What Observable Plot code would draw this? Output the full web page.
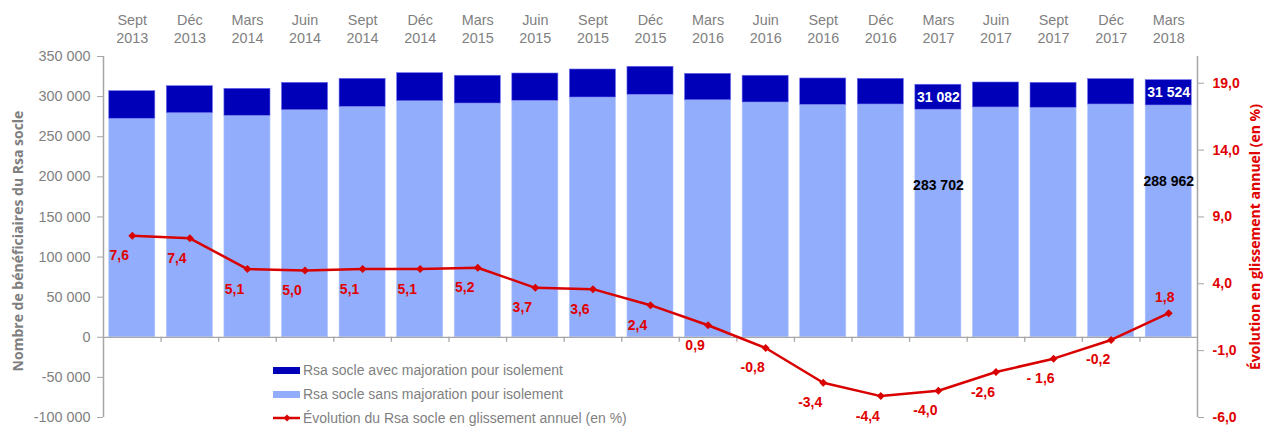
<!DOCTYPE html>
<html>
<head>
<meta charset="utf-8">
<script src="https://cdn.jsdelivr.net/npm/d3@7"></script>
<script src="https://cdn.jsdelivr.net/npm/@observablehq/plot@0.6"></script>
<style>
  body { margin: 0; background: #fff; }
  #wrap { position: relative; width: 1266px; height: 428px; font-family: "Liberation Sans", Arial, sans-serif; }
  #legend { position: absolute; left: 273px; top: 358px; font-size: 14px; color: #7f7f7f; }
  #legend .row { height: 24px; display: flex; align-items: center; }
  #legend .sw { width: 27px; height: 7px; margin-right: 3px; }
</style>
</head>
<body>
<div id="wrap">
  <div id="chart"></div>
  <div id="legend">
    <div class="row"><span class="sw" style="background:#0000b8"></span>Rsa socle avec majoration pour isolement</div>
    <div class="row"><span class="sw" style="background:#92adfc"></span>Rsa socle sans majoration pour isolement</div>
    <div class="row"><svg width="27" height="10" style="margin-right:3px"><line x1="0" y1="5" x2="27" y2="5" stroke="#d90000" stroke-width="2.5"/><path d="M14,1.5 L17.5,5 L14,8.5 L10.5,5 Z" fill="#d90000"/></svg>Évolution du Rsa socle en glissement annuel (en %)</div>
  </div>
</div>
<script>
const categories = ["Sept 2013","Déc 2013","Mars 2014","Juin 2014","Sept 2014","Déc 2014","Mars 2015","Juin 2015","Sept 2015","Déc 2015","Mars 2016","Juin 2016","Sept 2016","Déc 2016","Mars 2017","Juin 2017","Sept 2017","Déc 2017","Mars 2018"];
const sansMajoration = [272400,279400,276100,283100,287300,294300,291400,294800,298900,302300,295500,292700,289800,290200,283702,286500,286100,290200,288962];
const avecMajoration = [34400,33600,33600,34100,34900,34900,34600,34000,34900,34900,32900,33300,32800,32000,31082,31100,31100,31600,31524];
const evolution = [7.6,7.4,5.1,5.0,5.1,5.1,5.2,3.7,3.6,2.4,0.9,-0.8,-3.4,-4.4,-4.0,-2.6,-1.6,-0.2,1.8];
const evolutionLabels = ["7,6","7,4","5,1","5,0","5,1","5,1","5,2","3,7","3,6","2,4","0,9","-0,8","-3,4","-4,4","-4,0","-2,6","- 1,6","-0,2","1,8"];
const labelledBars = ["Mars 2017","Mars 2018"];
const leftTicks = [-100000,-50000,0,50000,100000,150000,200000,250000,300000,350000];
const rightTicks = [-6,-1,4,9,14,19];

const W = 1266, H = 428, mL = 103, mR = 69, mT = 56, mB = 11;
const step = (W - mL - mR) / (categories.length - 0.2 + 0.2);
const yDomain = [-100000, 350000];
const pxToVal = (yDomain[1] - yDomain[0]) / (H - mT - mB);
const pct = d3.scaleLinear([-6, 21], yDomain);

const gray = "#7f7f7f", axisGray = "#a6a6a6", red = "#e00000", lineRed = "#d90000";
const titleFont = "'Open Sans', 'Liberation Sans', sans-serif";
const fmtNum = v => (v < 0 ? "-" : "") + d3.format(",")(Math.abs(Math.round(v))).replace(/,/g, " ");
const fmtPct = v => { const r = Math.round(v * 10) / 10; return r.toFixed(1).replace(".", ","); };

const rows = categories.map((c, i) => ({cat: c, sans: sansMajoration[i], avec: avecMajoration[i], evo: evolution[i], evoLabel: evolutionLabels[i]}));
const last = rows[rows.length - 1];

const chart = Plot.plot({
  width: W, height: H,
  marginLeft: mL, marginRight: mR, marginTop: mT, marginBottom: mB,
  style: {fontFamily: "'Liberation Sans', Arial, sans-serif", fontSize: "14px", background: "#fff"},
  x: {domain: categories, paddingInner: 0.2, paddingOuter: 0.1, round: false, axis: null},
  y: {domain: yDomain, axis: null},
  marks: [
    Plot.barY(rows, {x: "cat", y1: 0, y2: "sans", fill: "#92adfc", stroke: "#b4c6fd", strokeWidth: 0.6}),
    Plot.barY(rows, {x: "cat", y1: "sans", y2: d => d.sans + d.avec, fill: "#0000b8", stroke: "#6d6df0", strokeWidth: 0.6}),
    Plot.ruleY([0], {stroke: axisGray, strokeWidth: 1.3}),
    Plot.ruleX(categories.slice(1), {x: d => d, dx: -step / 2, y1: 0, y2: -5 * pxToVal, stroke: axisGray, strokeWidth: 1.3}),
    Plot.ruleX([categories[0]], {x: d => d, dx: -step / 2, stroke: axisGray, strokeWidth: 1.5}),
    Plot.ruleX([categories[categories.length - 1]], {x: d => d, dx: step / 2, stroke: axisGray, strokeWidth: 1.5}),
    Plot.axisY({anchor: "left", ticks: leftTicks, tickFormat: fmtNum, tickSize: 6, tickPadding: 7, color: gray, stroke: axisGray, fontSize: 14.4, label: null}),
    Plot.axisY({anchor: "right", ticks: rightTicks.map(pct), tickFormat: () => "", tickSize: 6, stroke: axisGray, label: null}),
    Plot.axisY({anchor: "right", ticks: rightTicks.map(pct), tickFormat: v => fmtPct(pct.invert(v)), tickSize: 0, tickPadding: 15, color: red, fontWeight: "bold", fontSize: 14, label: null}),
    Plot.text(categories, {x: d => d, text: d => d.replace(" ", "\n"), frameAnchor: "top", lineAnchor: "bottom", dy: -14, lineHeight: 1.2, fill: gray, fontSize: 14.4}),
    Plot.text(["Nombre de bénéficiaires du Rsa socle"], {frameAnchor: "left", textAnchor: "middle", rotate: -90, dx: -85, dy: 4, fill: gray, fontWeight: "bold", fontSize: 14, fontFamily: titleFont}),
    Plot.text(["Évolution en glissement annuel (en %)"], {frameAnchor: "right", textAnchor: "middle", rotate: -90, dx: 58, dy: 0, fill: red, fontWeight: "bold", fontSize: 14, fontFamily: titleFont}),
    Plot.line(rows, {x: "cat", y: d => pct(d.evo), stroke: lineRed, strokeWidth: 2.5}),
    Plot.dot(rows, {x: "cat", y: d => pct(d.evo), symbol: "diamond2", r: 3.6, fill: lineRed}),
    Plot.text(rows.slice(0, -1), {x: "cat", y: d => pct(d.evo), text: "evoLabel", dx: -13, dy: 20, fill: red, fontWeight: "bold", fontSize: 14}),
    Plot.text([last], {x: "cat", y: d => pct(d.evo), text: "evoLabel", dx: -4, dy: -16, fill: red, fontWeight: "bold", fontSize: 14}),
    Plot.text(rows.filter(d => labelledBars.includes(d.cat)), {x: "cat", y: d => d.sans + d.avec / 2, text: d => fmtNum(d.avec), fill: "#fff", fontWeight: "bold", fontSize: 14}),
    Plot.text(rows.filter(d => labelledBars.includes(d.cat)), {x: "cat", y: "sans", dy: 76, text: d => fmtNum(d.sans), fill: "#000", fontWeight: "bold", fontSize: 14})
  ]
});
document.getElementById("chart").appendChild(chart);
</script>
</body>
</html>
